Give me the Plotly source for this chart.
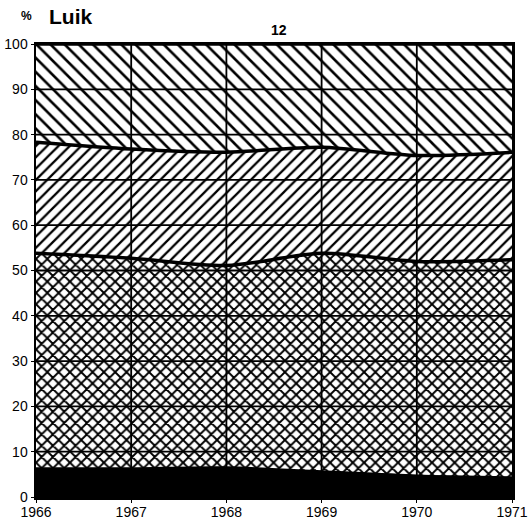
import plotly.graph_objects as go

years = [1966, 1967, 1968, 1969, 1970, 1971]
black_share = [6.2, 6.2, 6.4, 5.5, 4.6, 4.2]
cross_share = [47.6, 46.5, 44.7, 48.3, 47.4, 48.2]
fwd_share = [24.5, 24.1, 25.0, 23.4, 23.4, 23.7]
back_share = [21.7, 23.2, 23.9, 22.8, 24.6, 23.9]
y_ticks = [0, 10, 20, 30, 40, 50, 60, 70, 80, 90, 100]

fig = go.Figure()
layers = [
    (black_share, None, 0, 0),
    (cross_share, "x", 8, 0.42),
    (fwd_share, "/", 8, 0.28),
    (back_share, "\\", 10, 0.26),
]
for vals, pat, sz, sol in layers:
    kw = {}
    if pat is None:
        kw["fillcolor"] = "black"
    else:
        kw["fillpattern"] = dict(shape=pat, fgcolor="black", bgcolor="white",
                                 fgopacity=1, size=sz, solidity=sol)
    fig.add_trace(go.Scatter(
        x=years, y=vals, stackgroup="s", mode="lines",
        line=dict(color="black", width=3.5, shape="spline", smoothing=0.8),
        showlegend=False, hoverinfo="skip", **kw))

shapes = []
for v in y_ticks[1:-1]:
    shapes.append(dict(type="line", xref="paper", x0=0, x1=1, yref="y", y0=v, y1=v,
                       line=dict(color="black", width=1.8), layer="above"))
for yr in years[1:-1]:
    shapes.append(dict(type="line", yref="paper", y0=0, y1=1, xref="x", x0=yr, x1=yr,
                       line=dict(color="black", width=1.8), layer="above"))

fig.update_layout(
    width=530, height=520,
    margin=dict(l=36, r=18, t=44, b=23),
    paper_bgcolor="white", plot_bgcolor="white",
    font=dict(family="Liberation Sans, Arial", size=14, color="black"),
    shapes=shapes,
    xaxis=dict(range=[1966, 1971], tickvals=years, ticktext=[str(y) for y in years],
               showgrid=False, zeroline=False, showline=True, mirror=True,
               linecolor="black", linewidth=2.5, ticks="outside", ticklen=3,
               tickcolor="black", layer="above traces", fixedrange=True,
               automargin=False, ticklabelstandoff=-2),
    yaxis=dict(range=[0, 100], tickvals=y_ticks, showgrid=False, zeroline=False,
               showline=True, mirror=True, linecolor="black", linewidth=2.5,
               ticks="outside", ticklen=3, tickcolor="black",
               layer="above traces", fixedrange=True, automargin=False),
    annotations=[
        dict(text="<b>%</b>", xref="paper", yref="paper", x=-0.019, y=1.042,
             xanchor="center", yanchor="bottom", showarrow=False,
             font=dict(size=12, family="Liberation Sans, Arial")),
        dict(text="<b>Luik</b>", xref="paper", yref="paper", x=0.024, y=1.032,
             xanchor="left", yanchor="bottom", showarrow=False,
             font=dict(size=21, family="Liberation Sans, Arial")),
        dict(text="<b>12</b>", xref="paper", yref="paper", x=0.51, y=1.008,
             xanchor="center", yanchor="bottom", showarrow=False,
             font=dict(size=14, family="Liberation Sans, Arial")),
    ],
)
fig.write_html("out.html", config={"staticPlot": True},
               post_script="document.body.style.margin='0';document.body.style.overflow='hidden';")
